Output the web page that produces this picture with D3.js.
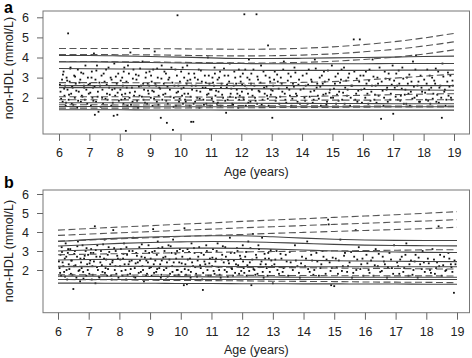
<!DOCTYPE html>
<html>
<head>
<meta charset="utf-8">
<script src="https://cdn.jsdelivr.net/npm/d3@7"></script>
<style>
  body { margin: 0; background: #fff; }
  svg { display: block; font-family: "Liberation Sans", Arial, sans-serif; }
</style>
</head>
<body>
<div id="chart"></div>
<script>
"use strict";

// knot ages for the centile curves
const ages = [6, 7, 8, 9, 10, 11, 12, 13, 14, 15, 16, 17, 18, 19];
const xTicks = [6, 7, 8, 9, 10, 11, 12, 13, 14, 15, 16, 17, 18, 19];
const yTicks = [2, 3, 4, 5, 6];

// panel a: dashed curves (reference)
const dashedA = [
  [4.45, 4.45, 4.45, 4.44, 4.43, 4.42, 4.41, 4.42, 4.46, 4.53, 4.64, 4.78, 4.97, 5.2],
  [4.15, 4.15, 4.14, 4.13, 4.11, 4.09, 4.08, 4.09, 4.12, 4.18, 4.28, 4.4, 4.57, 4.78],
  [3.8, 3.8, 3.79, 3.78, 3.76, 3.74, 3.73, 3.73, 3.76, 3.81, 3.9, 4.01, 4.17, 4.38],
  [2.75, 2.75, 2.75, 2.74, 2.73, 2.72, 2.72, 2.73, 2.76, 2.8, 2.88, 2.97, 3.07, 3.17],
  [2.05, 2.05, 2.05, 2.04, 2.04, 2.03, 2.03, 2.04, 2.06, 2.09, 2.12, 2.15, 2.18, 2.2],
  [1.9, 1.9, 1.89, 1.89, 1.88, 1.88, 1.87, 1.87, 1.87, 1.88, 1.88, 1.89, 1.9, 1.9],
  [1.65, 1.65, 1.64, 1.64, 1.63, 1.62, 1.61, 1.6, 1.6, 1.59, 1.59, 1.58, 1.58, 1.58],
  [1.48, 1.48, 1.48, 1.49, 1.49, 1.5, 1.5, 1.51, 1.52, 1.52, 1.53, 1.54, 1.54, 1.55],
];
// panel a: solid curves (study)
const solidA = [
  [4.1, 4.1, 4.08, 4.05, 4.02, 3.98, 3.95, 3.95, 3.96, 3.98, 4.0, 4.02, 4.05, 4.07],
  [3.78, 3.78, 3.77, 3.75, 3.73, 3.71, 3.7, 3.69, 3.69, 3.69, 3.69, 3.7, 3.7, 3.7],
  [3.45, 3.44, 3.43, 3.42, 3.4, 3.38, 3.37, 3.36, 3.36, 3.36, 3.36, 3.37, 3.37, 3.37],
  [2.6, 2.6, 2.6, 2.6, 2.6, 2.6, 2.6, 2.6, 2.6, 2.6, 2.6, 2.6, 2.6, 2.6],
  [2.5, 2.5, 2.49, 2.48, 2.47, 2.46, 2.45, 2.44, 2.43, 2.42, 2.41, 2.4, 2.38, 2.37],
  [1.75, 1.75, 1.75, 1.74, 1.74, 1.73, 1.73, 1.72, 1.72, 1.71, 1.71, 1.7, 1.7, 1.7],
  [1.56, 1.56, 1.56, 1.55, 1.55, 1.55, 1.55, 1.55, 1.55, 1.55, 1.55, 1.55, 1.55, 1.55],
  [1.4, 1.4, 1.4, 1.39, 1.39, 1.39, 1.38, 1.38, 1.38, 1.38, 1.38, 1.38, 1.38, 1.38],
];

// panel b: dashed curves (reference)
const dashedB = [
  [4.1, 4.18, 4.26, 4.33, 4.41, 4.48, 4.56, 4.63, 4.7, 4.77, 4.84, 4.91, 4.99, 5.07],
  [3.82, 3.89, 3.96, 4.02, 4.09, 4.15, 4.22, 4.28, 4.34, 4.4, 4.46, 4.52, 4.58, 4.65],
  [3.52, 3.58, 3.64, 3.7, 3.76, 3.82, 3.87, 3.93, 3.98, 4.03, 4.08, 4.13, 4.18, 4.25],
  [2.8, 2.83, 2.86, 2.88, 2.91, 2.93, 2.95, 2.97, 2.99, 3.01, 3.02, 3.04, 3.06, 3.07],
  [2.2, 2.2, 2.19, 2.18, 2.17, 2.16, 2.14, 2.13, 2.12, 2.1, 2.09, 2.08, 2.06, 2.05],
  [1.75, 1.75, 1.74, 1.74, 1.73, 1.73, 1.72, 1.71, 1.71, 1.7, 1.7, 1.69, 1.69, 1.68],
  [1.5, 1.49, 1.48, 1.46, 1.45, 1.44, 1.43, 1.41, 1.4, 1.39, 1.37, 1.36, 1.35, 1.33],
];
// panel b: solid curves (study)
const solidB = [
  [3.5, 3.6, 3.68, 3.74, 3.78, 3.8, 3.8, 3.75, 3.68, 3.62, 3.58, 3.56, 3.55, 3.55],
  [3.26, 3.33, 3.4, 3.45, 3.48, 3.5, 3.49, 3.45, 3.4, 3.35, 3.31, 3.29, 3.28, 3.27],
  [3.0, 3.05, 3.1, 3.13, 3.15, 3.15, 3.14, 3.1, 3.05, 3.0, 2.97, 2.95, 2.93, 2.92],
  [2.53, 2.55, 2.56, 2.57, 2.57, 2.56, 2.55, 2.53, 2.51, 2.49, 2.47, 2.46, 2.45, 2.44],
  [2.17, 2.18, 2.19, 2.19, 2.19, 2.19, 2.18, 2.18, 2.17, 2.17, 2.17, 2.17, 2.17, 2.17],
  [1.68, 1.68, 1.67, 1.66, 1.65, 1.64, 1.63, 1.63, 1.62, 1.62, 1.62, 1.62, 1.62, 1.62],
  [1.5, 1.5, 1.5, 1.5, 1.5, 1.5, 1.5, 1.5, 1.5, 1.5, 1.5, 1.5, 1.5, 1.5],
  [1.31, 1.31, 1.3, 1.3, 1.29, 1.29, 1.28, 1.28, 1.27, 1.27, 1.26, 1.26, 1.25, 1.25],
];

const pointsA = [
  [6.05,2.3],[6.1,2.9],[6.12,1.8],[6.15,3.3],[6.18,2.1],[6.2,2.6],[6.22,1.6],[6.25,3.0],[6.28,2.4],[6.3,5.2],[6.32,1.9],[6.35,2.8],[6.38,3.5],[6.4,2.2],[6.42,1.7],[6.45,2.5],[6.5,3.1],[6.52,2.0],[6.55,2.7],[6.6,1.5],[6.62,3.4],[6.65,2.3],[6.7,2.9],[6.72,1.8],[6.75,2.1],[6.8,3.2],[6.82,2.6],[6.85,1.9],[6.9,2.4],[6.95,3.0],[6.98,2.2],
  [7.02,2.7],[7.05,1.6],[7.08,3.3],[7.1,2.0],[7.12,2.5],[7.15,4.2],[7.18,1.15],[7.2,2.9],[7.22,1.8],[7.25,3.6],[7.28,2.3],[7.3,1.3],[7.35,2.6],[7.4,3.1],[7.42,2.0],[7.45,1.7],[7.5,2.8],[7.55,3.4],[7.58,2.2],[7.6,1.9],[7.65,2.5],[7.7,3.0],[7.72,1.6],[7.75,2.4],[7.8,1.1],[7.82,3.7],[7.85,2.1],[7.9,2.7],[7.92,1.15],[7.95,3.2],
  [8.02,2.4],[8.05,1.9],[8.08,3.0],[8.1,2.6],[8.12,1.7],[8.15,3.5],[8.18,2.2],[8.2,0.35],[8.22,2.8],[8.25,1.6],[8.3,3.2],[8.32,2.0],[8.35,4.25],[8.4,2.5],[8.42,1.8],[8.45,3.4],[8.5,2.3],[8.55,2.9],[8.6,1.5],[8.62,3.1],[8.65,2.1],[8.7,2.6],[8.75,3.8],[8.78,1.9],[8.8,2.4],[8.85,3.0],[8.9,1.7],[8.92,2.7],[8.95,2.2],[8.98,3.3],
  [9.02,2.0],[9.05,2.8],[9.08,1.6],[9.1,3.4],[9.12,2.3],[9.15,4.3],[9.2,2.6],[9.22,1.8],[9.25,3.0],[9.28,2.1],[9.3,2.5],[9.35,1.0],[9.38,3.6],[9.4,1.9],[9.45,2.7],[9.5,2.2],[9.52,3.2],[9.55,0.75],[9.58,1.7],[9.6,2.9],[9.65,2.4],[9.7,3.5],[9.75,0.4],[9.78,2.0],[9.8,2.6],[9.85,1.6],[9.88,3.1],[9.9,6.1],[9.92,2.3],[9.95,1.8],[9.98,2.8],
  [10.02,3.3],[10.05,2.1],[10.08,1.7],[10.1,2.5],[10.12,3.0],[10.15,1.9],[10.2,2.7],[10.22,3.6],[10.25,2.2],[10.3,1.6],[10.32,2.9],[10.35,0.8],[10.38,2.4],[10.42,0.8],[10.45,3.2],[10.48,1.8],[10.5,2.6],[10.55,2.0],[10.6,3.4],[10.62,1.5],[10.65,2.3],[10.7,2.8],[10.75,1.9],[10.8,3.1],[10.82,2.5],[10.85,1.7],[10.9,4.0],[10.92,2.2],[10.95,2.7],[10.98,1.6],
  [11.02,2.4],[11.05,3.0],[11.08,1.8],[11.1,2.6],[11.12,3.5],[11.15,2.1],[11.2,1.7],[11.22,2.9],[11.25,2.3],[11.3,3.3],[11.32,1.6],[11.35,2.7],[11.4,2.0],[11.45,3.1],[11.5,1.25],[11.52,2.5],[11.55,1.9],[11.6,2.8],[11.62,3.7],[11.65,2.2],[11.7,1.7],[11.75,2.6],[11.8,3.0],[11.82,2.0],[11.85,2.4],[11.9,1.5],[11.92,3.4],[11.95,2.1],[11.98,2.8],
  [12.02,2.3],[12.05,3.2],[12.08,1.9],[12.1,6.15],[12.12,2.6],[12.15,1.6],[12.2,3.0],[12.22,2.2],[12.25,3.9],[12.3,1.8],[12.32,2.7],[12.35,2.4],[12.4,3.4],[12.45,2.0],[12.5,6.15],[12.52,1.7],[12.55,2.9],[12.6,2.3],[12.65,3.6],[12.7,1.9],[12.75,2.5],[12.8,3.1],[12.85,2.1],[12.88,4.6],[12.9,1.6],[12.95,2.8],[12.98,2.4],
  [13.02,1.0],[13.05,2.6],[13.1,3.3],[13.15,2.0],[13.2,2.8],[13.25,1.7],[13.3,3.0],[13.35,2.3],[13.4,3.8],[13.45,1.9],[13.5,2.5],[13.55,3.2],[13.6,2.1],[13.65,1.6],[13.7,2.7],[13.75,3.5],[13.8,2.2],[13.85,1.8],[13.9,2.9],[13.95,2.4],
  [14.02,3.1],[14.08,2.0],[14.12,2.6],[14.18,1.7],[14.22,3.4],[14.28,2.3],[14.32,2.8],[14.38,1.9],[14.42,3.9],[14.48,2.5],[14.52,2.1],[14.58,3.0],[14.62,1.6],[14.68,2.7],[14.72,3.3],[14.78,2.2],[14.82,1.8],[14.88,2.9],[14.92,2.4],[14.98,3.6],
  [15.02,2.0],[15.08,2.7],[15.12,1.7],[15.18,3.2],[15.22,2.3],[15.28,2.9],[15.32,1.9],[15.38,3.5],[15.42,2.5],[15.48,2.1],[15.52,3.0],[15.58,1.6],[15.62,2.6],[15.7,4.9],[15.72,3.3],[15.78,2.2],[15.82,1.8],[15.88,2.8],[15.9,4.9],[15.95,2.4],
  [16.02,3.1],[16.08,2.0],[16.12,2.7],[16.18,1.7],[16.22,3.4],[16.28,2.3],[16.32,3.9],[16.38,1.9],[16.42,2.6],[16.48,3.0],[16.52,2.1],[16.6,0.95],[16.62,2.8],[16.68,1.6],[16.72,3.3],[16.78,2.4],[16.82,1.8],[16.88,2.9],[16.92,2.2],[16.98,3.6],
  [17.0,1.2],[17.05,2.5],[17.1,3.2],[17.15,1.9],[17.2,2.7],[17.25,2.1],[17.3,3.5],[17.35,1.7],[17.4,2.4],[17.45,3.0],[17.5,2.2],[17.55,1.6],[17.6,2.8],[17.65,3.8],[17.7,2.0],[17.75,4.1],[17.8,2.6],[17.85,1.8],[17.9,3.1],[17.95,2.3],
  [18.02,2.9],[18.08,1.9],[18.12,3.4],[18.18,2.4],[18.22,1.7],[18.28,3.0],[18.32,2.2],[18.38,2.7],[18.42,1.8],[18.48,3.3],[18.52,2.5],[18.58,2.0],[18.6,1.0],[18.62,3.7],[18.68,2.3],[18.72,1.6],[18.78,2.8],[18.82,2.1],[18.88,3.1],[18.92,1.9],[18.96,2.6],
  [6.03,2.65],[6.07,1.95],[6.13,3.15],[6.17,2.45],[6.23,1.75],[6.27,2.85],[6.33,2.15],[6.37,3.45],[6.43,2.55],[6.47,1.65],[6.53,3.05],[6.57,2.35],[6.63,1.85],[6.67,2.75],[6.73,3.25],[6.77,2.05],[6.83,2.5],[6.87,3.6],[6.93,1.7],[6.97,2.65],
  [7.03,2.25],[7.07,3.0],[7.13,1.85],[7.17,2.55],[7.23,3.35],[7.27,2.05],[7.33,2.75],[7.37,1.55],[7.43,2.4],[7.47,3.2],[7.53,1.95],[7.57,2.65],[7.63,3.5],[7.67,2.15],[7.73,2.9],[7.77,1.75],[7.83,2.45],[7.87,3.05],[7.93,2.25],[7.97,1.85],
  [8.03,2.85],[8.07,2.15],[8.13,3.3],[8.17,1.95],[8.23,2.5],[8.27,3.6],[8.33,2.25],[8.37,1.65],[8.43,2.95],[8.47,2.1],[8.53,3.15],[8.57,1.85],[8.63,2.55],[8.67,3.45],[8.73,2.05],[8.77,2.7],[8.83,1.75],[8.87,3.25],[8.93,2.35],[8.97,2.6],
  [9.03,3.1],[9.07,2.35],[9.13,1.95],[9.17,2.7],[9.23,3.45],[9.27,1.65],[9.33,2.45],[9.37,2.95],[9.43,2.15],[9.47,3.3],[9.53,1.85],[9.57,2.55],[9.63,3.0],[9.67,2.05],[9.73,2.75],[9.77,1.55],[9.83,3.4],[9.87,2.25],[9.93,2.6],[9.97,1.95],
  [10.03,2.45],[10.07,3.5],[10.13,2.2],[10.17,1.8],[10.23,2.85],[10.27,3.2],[10.33,2.05],[10.37,2.6],[10.43,1.7],[10.47,3.0],[10.53,2.35],[10.57,2.9],[10.63,1.95],[10.67,3.35],[10.73,2.5],[10.77,1.65],[10.83,2.75],[10.87,2.15],[10.93,3.1],[10.97,2.4],
  [11.03,1.95],[11.07,2.75],[11.13,3.2],[11.17,2.35],[11.23,1.75],[11.27,3.0],[11.33,2.5],[11.37,2.15],[11.43,3.45],[11.47,1.85],[11.53,2.65],[11.57,3.1],[11.63,2.05],[11.67,2.45],[11.73,1.65],[11.77,3.3],[11.83,2.7],[11.87,2.2],[11.93,1.9],[11.97,3.05],
  [12.03,2.65],[12.07,2.0],[12.13,3.4],[12.17,2.45],[12.23,1.75],[12.27,2.9],[12.33,3.2],[12.37,2.1],[12.43,2.6],[12.47,1.85],[12.53,3.05],[12.57,2.35],[12.63,2.75],[12.67,1.65],[12.73,3.3],[12.77,2.2],[12.83,2.55],[12.87,1.95],[12.93,3.0],[12.97,2.15],
  [13.03,2.35],[13.08,2.9],[13.13,1.85],[13.18,3.15],[13.23,2.45],[13.28,2.05],[13.33,2.7],[13.38,3.4],[13.43,2.2],[13.48,1.75],[13.53,2.85],[13.58,2.4],[13.63,3.05],[13.68,1.95],[13.73,2.55],[13.78,3.25],[13.83,2.1],[13.88,2.65],[13.93,1.7],
  [14.05,2.45],[14.1,1.85],[14.15,3.2],[14.2,2.65],[14.25,2.05],[14.3,2.9],[14.35,1.75],[14.4,2.35],[14.45,3.45],[14.5,2.7],[14.55,1.95],[14.6,2.55],[14.65,3.1],[14.7,2.15],[14.75,2.8],[14.8,1.65],[14.85,3.35],[14.9,2.25],[14.95,2.0],
  [15.05,2.45],[15.1,3.05],[15.15,2.15],[15.2,1.85],[15.25,2.75],[15.3,3.4],[15.35,2.25],[15.4,1.7],[15.45,2.85],[15.5,2.4],[15.55,3.2],[15.6,2.0],[15.65,2.6],[15.75,1.9],[15.8,2.95],[15.85,2.35],[15.92,3.1],[15.97,1.75],
  [16.05,2.45],[16.1,3.3],[16.15,2.2],[16.2,2.85],[16.25,1.85],[16.3,2.6],[16.35,3.05],[16.4,2.15],[16.45,1.75],[16.5,2.7],[16.55,3.5],[16.65,2.35],[16.7,2.0],[16.75,2.95],[16.8,2.5],[16.85,3.2],[16.9,1.9],[16.95,2.65],
  [17.03,2.85],[17.08,2.05],[17.13,2.6],[17.18,3.35],[17.23,1.85],[17.28,2.45],[17.33,2.95],[17.38,2.15],[17.43,1.7],[17.48,2.7],[17.53,3.15],[17.58,2.3],[17.63,1.95],[17.68,2.55],[17.73,3.4],[17.78,2.1],[17.83,2.8],[17.88,1.8],[17.93,2.5],
  [18.05,2.25],[18.1,2.7],[18.15,1.85],[18.2,3.1],[18.25,2.5],[18.3,1.95],[18.35,2.85],[18.4,3.45],[18.45,2.15],[18.5,1.75],[18.55,2.6],[18.65,3.05],[18.7,2.4],[18.75,1.9],[18.8,3.25],[18.85,2.55],[18.9,2.0],[18.95,2.85],
];

const pointsB = [
  [6.05,2.1],[6.08,2.8],[6.1,1.7],[6.12,3.2],[6.15,2.4],[6.2,1.9],[6.22,2.6],[6.25,3.4],[6.28,2.0],[6.3,1.5],[6.32,2.9],[6.35,2.3],[6.4,3.1],[6.42,1.8],[6.45,2.5],[6.5,1.0],[6.52,2.2],[6.55,3.0],[6.6,1.6],[6.62,2.7],[6.65,3.5],[6.7,2.0],[6.72,1.4],[6.75,2.4],[6.8,3.3],[6.82,1.9],[6.85,2.6],[6.9,3.0],[6.92,1.7],[6.95,2.3],[6.98,2.8],
  [7.02,1.8],[7.05,2.5],[7.08,3.1],[7.1,1.5],[7.12,2.2],[7.15,2.9],[7.2,4.3],[7.22,1.3],[7.25,2.7],[7.28,3.3],[7.3,2.0],[7.35,1.6],[7.38,2.4],[7.4,3.0],[7.45,1.9],[7.5,2.6],[7.52,3.6],[7.55,2.1],[7.6,1.7],[7.62,2.8],[7.65,3.2],[7.7,2.3],[7.75,1.5],[7.78,2.5],[7.8,4.1],[7.85,2.0],[7.88,3.0],[7.9,1.8],[7.95,2.6],
  [8.02,2.2],[8.05,3.1],[8.1,1.7],[8.12,2.6],[8.15,3.4],[8.2,2.0],[8.22,1.5],[8.25,2.8],[8.3,2.3],[8.32,3.0],[8.35,1.8],[8.4,2.5],[8.45,3.7],[8.5,2.1],[8.52,1.6],[8.55,2.9],[8.6,2.4],[8.65,3.2],[8.7,1.9],[8.72,2.7],[8.75,2.2],[8.8,1.4],[8.85,3.0],[8.88,2.5],[8.9,1.8],[8.95,3.3],[8.98,2.1],
  [9.02,2.6],[9.05,1.7],[9.1,4.15],[9.12,2.3],[9.15,3.0],[9.2,1.9],[9.22,2.8],[9.25,3.5],[9.3,2.1],[9.35,1.6],[9.38,2.5],[9.4,3.2],[9.45,2.0],[9.5,2.7],[9.52,1.5],[9.55,2.4],[9.6,3.3],[9.65,1.8],[9.7,2.9],[9.72,2.2],[9.75,3.6],[9.8,1.7],[9.85,2.6],[9.88,3.0],[9.9,2.0],[9.95,2.4],
  [10.02,1.9],[10.05,2.7],[10.1,1.2],[10.12,4.2],[10.15,2.3],[10.2,1.25],[10.22,3.1],[10.25,2.0],[10.3,2.6],[10.32,1.6],[10.35,3.4],[10.4,2.2],[10.45,2.9],[10.5,1.8],[10.55,2.5],[10.6,3.2],[10.65,2.1],[10.7,1.5],[10.72,0.95],[10.75,2.8],[10.8,2.3],[10.85,3.0],[10.9,1.7],[10.95,2.6],
  [11.02,2.2],[11.05,3.1],[11.1,1.8],[11.15,2.6],[11.2,3.4],[11.25,2.0],[11.3,1.6],[11.35,2.8],[11.4,2.4],[11.45,3.2],[11.5,1.9],[11.55,2.5],[11.6,3.7],[11.65,2.1],[11.7,1.7],[11.75,2.9],[11.8,2.3],[11.85,3.0],[11.9,1.8],[11.95,2.6],
  [12.02,3.3],[12.05,2.1],[12.1,2.7],[12.15,1.7],[12.2,3.5],[12.25,2.4],[12.3,1.2],[12.35,3.9],[12.4,2.0],[12.45,2.8],[12.5,1.8],[12.55,3.1],[12.6,2.3],[12.65,3.7],[12.7,1.6],[12.75,2.6],[12.8,2.1],[12.85,2.9],[12.9,1.9],[12.95,2.5],
  [13.0,1.3],[13.05,2.3],[13.12,3.0],[13.2,1.8],[13.28,2.6],[13.35,2.1],[13.42,2.8],[13.5,1.7],[13.58,2.4],[13.65,2.0],[13.72,3.3],[13.8,2.2],[13.88,1.6],[13.95,2.7],
  [14.05,2.2],[14.12,3.5],[14.2,1.9],[14.28,2.5],[14.35,2.0],[14.42,2.9],[14.5,1.7],[14.58,2.3],[14.65,2.7],[14.72,1.8],[14.8,4.65],[14.82,4.4],[14.85,2.4],[14.9,1.2],[14.92,2.1],[15.0,1.15],
  [15.05,2.6],[15.12,1.8],[15.2,3.6],[15.28,2.2],[15.35,2.9],[15.42,1.9],[15.5,2.4],[15.58,1.6],[15.65,2.7],[15.7,4.1],[15.72,2.0],[15.8,3.2],[15.88,2.3],[15.95,1.7],
  [16.05,2.8],[16.12,2.0],[16.2,2.5],[16.28,1.7],[16.35,3.1],[16.42,2.2],[16.5,1.9],[16.58,2.7],[16.65,2.3],[16.72,1.6],[16.8,2.9],[16.88,2.1],[16.95,3.3],
  [17.05,2.4],[17.12,1.8],[17.2,2.7],[17.28,2.1],[17.35,3.4],[17.42,1.7],[17.5,2.5],[17.58,2.0],[17.65,2.8],[17.72,1.6],[17.8,2.3],[17.88,3.0],[17.95,1.9],
  [18.05,2.6],[18.12,2.0],[18.2,3.1],[18.28,1.8],[18.35,2.4],[18.4,4.3],[18.42,2.2],[18.5,1.7],[18.58,2.7],[18.65,2.0],[18.72,2.9],[18.8,2.3],[18.85,1.9],[18.9,0.8],[18.92,2.5],
  [6.03,2.45],[6.07,1.85],[6.13,2.95],[6.17,2.2],[6.23,1.65],[6.27,2.7],[6.33,3.1],[6.37,2.05],[6.43,2.5],[6.47,1.75],[6.53,2.85],[6.57,2.25],[6.63,3.25],[6.67,1.95],[6.73,2.6],[6.77,2.1],[6.83,1.55],[6.87,2.75],[6.93,3.15],[6.97,2.0],
  [7.03,2.35],[7.07,2.9],[7.13,1.75],[7.17,2.45],[7.23,3.05],[7.27,2.15],[7.33,1.65],[7.37,2.7],[7.43,2.25],[7.47,3.35],[7.53,1.85],[7.57,2.55],[7.63,2.05],[7.67,2.95],[7.73,1.7],[7.77,2.4],[7.83,3.15],[7.87,2.2],[7.93,2.75],[7.97,1.6],
  [8.03,2.55],[8.07,1.95],[8.13,2.85],[8.17,2.3],[8.23,3.2],[8.27,1.75],[8.33,2.45],[8.37,2.05],[8.43,3.0],[8.47,1.65],[8.53,2.35],[8.57,2.75],[8.63,1.85],[8.67,2.5],[8.73,3.35],[8.77,2.0],[8.83,2.65],[8.87,1.7],[8.93,2.4],[8.97,2.9],
  [9.03,2.15],[9.07,2.95],[9.13,1.85],[9.17,2.5],[9.23,2.05],[9.27,3.15],[9.33,2.3],[9.37,1.75],[9.43,2.65],[9.47,3.0],[9.53,2.1],[9.57,1.65],[9.63,2.55],[9.67,3.25],[9.73,1.9],[9.77,2.4],[9.83,2.85],[9.87,2.0],[9.93,1.75],[9.97,3.1],
  [10.03,2.35],[10.07,3.0],[10.13,2.05],[10.17,1.75],[10.23,2.55],[10.27,2.95],[10.33,1.9],[10.37,2.4],[10.43,3.15],[10.47,2.15],[10.53,1.65],[10.57,2.7],[10.63,2.25],[10.67,2.9],[10.73,1.85],[10.77,2.45],[10.83,3.3],[10.87,2.0],[10.93,2.35],[10.97,1.7],
  [11.03,2.65],[11.07,1.95],[11.13,2.45],[11.17,3.0],[11.23,2.15],[11.27,1.75],[11.33,2.55],[11.37,3.25],[11.43,2.0],[11.47,2.7],[11.53,1.65],[11.57,2.35],[11.63,2.9],[11.67,2.05],[11.73,2.5],[11.77,1.85],[11.83,3.15],[11.87,2.25],[11.93,2.75],[11.97,1.95],
  [12.03,2.45],[12.07,1.85],[12.13,2.95],[12.17,2.25],[12.23,1.95],[12.27,3.15],[12.33,2.55],[12.37,2.05],[12.43,1.75],[12.47,2.65],[12.53,3.3],[12.57,2.15],[12.63,2.45],[12.67,1.9],[12.73,2.85],[12.77,2.3],[12.83,1.7],[12.87,2.6],[12.93,3.05],[12.97,2.2],
  [13.08,2.55],[13.15,2.0],[13.25,2.85],[13.32,1.9],[13.45,2.45],[13.55,2.95],[13.62,2.15],[13.75,2.5],[13.85,1.85],[13.92,2.35],
  [14.08,2.6],[14.15,2.05],[14.25,2.8],[14.32,1.75],[14.45,2.45],[14.55,2.1],[14.62,3.0],[14.75,2.55],[14.88,1.95],[14.95,2.65],
  [15.08,2.15],[15.15,2.5],[15.25,1.95],[15.32,2.75],[15.45,2.2],[15.55,2.95],[15.62,1.85],[15.75,2.55],[15.85,2.05],[15.92,2.6],
  [16.08,2.35],[16.15,1.85],[16.25,2.65],[16.32,2.25],[16.45,2.85],[16.55,1.95],[16.62,2.45],[16.75,2.15],[16.85,2.55],[16.92,1.8],
  [17.08,2.2],[17.15,2.55],[17.25,1.9],[17.32,2.8],[17.45,2.3],[17.55,1.75],[17.62,2.45],[17.75,2.65],[17.85,2.05],[17.92,2.4],
  [18.08,2.35],[18.15,1.85],[18.25,2.55],[18.32,2.1],[18.45,2.8],[18.55,2.25],[18.62,1.95],[18.75,2.6],[18.82,2.15],[18.95,2.3],
];

const W = 472;
const H = 358;

const svg = d3
  .select("#chart")
  .append("svg")
  .attr("width", W)
  .attr("height", H);

svg.append("rect").attr("width", W).attr("height", H).attr("fill", "#fff");

// frame box, tick anchors and label spots for each panel
const panels = [
  {
    letter: "a", letterY: 13,
    box: { left: 43, right: 469.5, top: 11, bottom: 134 },
    xr: [59, 454], yr: [97.7, 17.3],
    labelY: 176, ylabY: 68,
    dashed: dashedA, solid: solidA, points: pointsA,
  },
  {
    letter: "b", letterY: 188,
    box: { left: 43, right: 469.5, top: 190, bottom: 312.7 },
    xr: [58, 457], yr: [270, 194],
    labelY: 354, ylabY: 251,
    dashed: dashedB, solid: solidB, points: pointsB,
  },
];

panels.forEach(drawPanel);

function drawPanel(p) {
  const x = d3.scaleLinear().domain([6, 19]).range(p.xr);
  const y = d3.scaleLinear().domain([2, 6]).range(p.yr);
  const b = p.box;
  const g = svg.append("g");

  const clipId = "clip-" + p.letter;
  g.append("clipPath")
    .attr("id", clipId)
    .append("rect")
    .attr("x", b.left)
    .attr("y", b.top)
    .attr("width", b.right - b.left)
    .attr("height", b.bottom - b.top);

  const plot = g.append("g").attr("clip-path", `url(#${clipId})`);

  // scatter of observations
  plot
    .append("g")
    .selectAll("rect")
    .data(p.points)
    .enter()
    .append("rect")
    .attr("x", (d) => x(d[0]) - 0.9)
    .attr("y", (d) => y(d[1]) - 0.9)
    .attr("width", 1.8)
    .attr("height", 1.8)
    .attr("fill", "#111");

  const line = d3
    .line()
    .x((d, i) => x(ages[i]))
    .y((d) => y(d))
    .curve(d3.curveMonotoneX);

  plot
    .append("g")
    .selectAll("path")
    .data(p.solid)
    .enter()
    .append("path")
    .attr("d", line)
    .attr("fill", "none")
    .attr("stroke", "#444")
    .attr("stroke-width", 1.1);

  plot
    .append("g")
    .selectAll("path")
    .data(p.dashed)
    .enter()
    .append("path")
    .attr("d", line)
    .attr("fill", "none")
    .attr("stroke", "#555")
    .attr("stroke-width", 1.1)
    .attr("stroke-dasharray", "7,3.5");

  // frame
  g.append("rect")
    .attr("x", b.left)
    .attr("y", b.top)
    .attr("width", b.right - b.left)
    .attr("height", b.bottom - b.top)
    .attr("fill", "none")
    .attr("stroke", "#777")
    .attr("stroke-width", 1);

  // axes
  const xAxis = g
    .append("g")
    .attr("transform", `translate(0,${b.bottom})`)
    .call(d3.axisBottom(x).tickValues(xTicks).tickSize(7).tickPadding(7).tickFormat(d3.format("d")));

  const yAxis = g
    .append("g")
    .attr("transform", `translate(${b.left},0)`)
    .call(d3.axisLeft(y).tickValues(yTicks).tickSize(6).tickPadding(8).tickFormat(d3.format("d")));

  [xAxis, yAxis].forEach((a) => {
    a.select(".domain").remove();
    a.selectAll(".tick line").attr("stroke", "#666");
    a.selectAll(".tick text")
      .attr("fill", "#222")
      .style("font-size", "12.5px")
      .style("font-family", '"Liberation Sans", Arial, sans-serif');
  });

  // labels
  g.append("text")
    .attr("x", (b.left + b.right) / 2)
    .attr("y", p.labelY)
    .attr("text-anchor", "middle")
    .attr("fill", "#222")
    .style("font-size", "12.5px")
    .text("Age (years)");

  g.append("text")
    .attr("transform", `translate(13,${p.ylabY}) rotate(-90)`)
    .attr("text-anchor", "middle")
    .attr("fill", "#222")
    .style("font-size", "12.5px")
    .text("non-HDL (mmol/L)");

  g.append("text")
    .attr("x", 4)
    .attr("y", p.letterY)
    .attr("fill", "#000")
    .style("font-size", "16px")
    .style("font-weight", "bold")
    .text(p.letter);
}
</script>
</body>
</html>
